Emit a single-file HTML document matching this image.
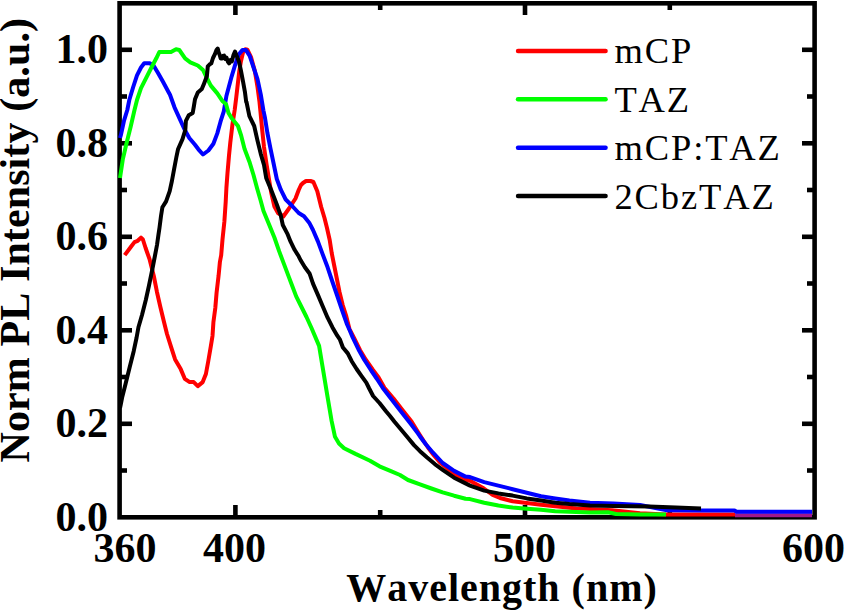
<!DOCTYPE html>
<html><head><meta charset="utf-8"><style>
html,body{margin:0;padding:0;background:#fff;}
svg{display:block;}
.b{font-family:"Liberation Serif",serif;font-weight:bold;font-size:42px;fill:#000;}
.r{font-family:"Liberation Serif",serif;font-size:36.5px;fill:#000;letter-spacing:1.9px;font-kerning:none;}
.t{font-size:40px;letter-spacing:1px;font-kerning:none;}
</style></head><body>
<svg width="845" height="616" viewBox="0 0 845 616">
<rect width="845" height="616" fill="#fff"/>
<g stroke="#000" stroke-width="4.6" fill="none">
<rect x="119.6" y="3.3" width="695" height="514" stroke-linejoin="miter"/>
<line x1="121" y1="470.5" x2="127" y2="470.5"/><line x1="813" y1="470.5" x2="807" y2="470.5"/><line x1="121" y1="423.8" x2="132" y2="423.8"/><line x1="813" y1="423.8" x2="802" y2="423.8"/><line x1="121" y1="377.0" x2="127" y2="377.0"/><line x1="813" y1="377.0" x2="807" y2="377.0"/><line x1="121" y1="330.3" x2="132" y2="330.3"/><line x1="813" y1="330.3" x2="802" y2="330.3"/><line x1="121" y1="283.5" x2="127" y2="283.5"/><line x1="813" y1="283.5" x2="807" y2="283.5"/><line x1="121" y1="236.8" x2="132" y2="236.8"/><line x1="813" y1="236.8" x2="802" y2="236.8"/><line x1="121" y1="190.0" x2="127" y2="190.0"/><line x1="813" y1="190.0" x2="807" y2="190.0"/><line x1="121" y1="143.3" x2="132" y2="143.3"/><line x1="813" y1="143.3" x2="802" y2="143.3"/><line x1="121" y1="96.5" x2="127" y2="96.5"/><line x1="813" y1="96.5" x2="807" y2="96.5"/><line x1="121" y1="49.8" x2="132" y2="49.8"/><line x1="813" y1="49.8" x2="802" y2="49.8"/><line x1="235.4" y1="516" x2="235.4" y2="505"/><line x1="235.4" y1="4" x2="235.4" y2="15"/><line x1="380.2" y1="516" x2="380.2" y2="510"/><line x1="380.2" y1="4" x2="380.2" y2="10"/><line x1="525.0" y1="516" x2="525.0" y2="505"/><line x1="525.0" y1="4" x2="525.0" y2="15"/><line x1="669.8" y1="516" x2="669.8" y2="510"/><line x1="669.8" y1="4" x2="669.8" y2="10"/>
</g>
<g fill="none" stroke-width="4" stroke-linejoin="round" stroke-linecap="butt">
<path d="M124.7,255.1 L130.6,247.3 L134.5,242.1 L137.7,240.8 L141.0,237.6 L142.9,239.5 L145.6,248.0 L149.7,259.7 L153.8,276.0 L157.0,292.2 L160.3,306.8 L164.0,322.0 L167.0,334.0 L171.3,347.7 L175.1,359.4 L180.7,369.1 L184.8,378.8 L189.7,382.1 L193.7,382.1 L197.8,386.1 L202.7,382.1 L205.9,374.0 L208.3,361.0 L210.8,346.4 L212.5,336.0 L213.4,322.3 L215.3,308.0 L216.6,292.5 L218.6,275.6 L219.9,262.0 L221.2,255.1 L222.5,239.5 L224.4,221.4 L225.7,201.9 L226.4,188.0 L227.5,173.0 L229.0,155.5 L230.3,142.5 L232.5,124.0 L234.7,110.0 L236.3,97.0 L237.8,84.0 L239.3,71.0 L241.0,61.0 L243.0,52.5 L245.3,49.3 L247.5,49.8 L251.0,57.1 L254.9,71.4 L257.5,87.0 L259.5,102.0 L260.5,112.0 L262.0,128.0 L264.0,147.0 L266.5,164.0 L268.8,178.0 L271.1,192.0 L274.4,206.5 L278.0,213.0 L283.3,216.5 L289.0,208.5 L295.5,198.5 L298.7,190.0 L301.0,185.0 L303.0,183.0 L306.0,181.0 L310.5,181.0 L313.4,182.0 L317.3,191.2 L321.2,207.0 L324.5,218.0 L327.0,228.0 L329.7,240.0 L331.7,253.0 L334.3,266.0 L336.9,279.0 L339.5,292.0 L342.7,305.0 L346.0,315.3 L349.4,328.8 L354.3,338.5 L360.1,350.2 L366.0,360.0 L372.8,369.7 L378.6,377.5 L384.4,387.8 L393.5,398.5 L402.6,410.2 L411.7,421.8 L418.0,432.0 L424.0,441.5 L428.0,447.5 L434.0,455.5 L440.0,462.5 L446.0,467.5 L454.1,474.0 L462.0,478.5 L470.0,480.7 L476.8,484.5 L483.6,488.3 L492.7,495.0 L500.0,498.0 L512.6,501.3 L526.8,503.0 L541.0,504.8 L555.2,506.2 L576.5,508.4 L590.0,509.0 L612.0,510.3 L640.0,513.3 L666.0,514.5 L735.0,514.6" stroke="#ff0000"/>
<path d="M735.0,515.2 L812.0,515.2" stroke="#a0188c"/>
<path d="M120.0,138.0 L121.0,134.7 L124.1,120.4 L127.3,110.0 L129.3,100.0 L133.2,87.0 L137.0,75.3 L141.0,67.5 L144.2,63.3 L150.0,63.3 L154.0,66.2 L157.9,72.7 L163.0,81.8 L168.2,91.5 L170.0,94.8 L174.5,107.3 L180.2,119.8 L184.8,130.0 L189.3,138.0 L195.0,144.8 L198.4,149.3 L203.0,154.5 L208.4,150.5 L213.4,143.8 L217.3,133.4 L220.5,121.7 L223.8,111.3 L226.4,96.0 L231.6,76.6 L235.5,63.6 L238.7,54.5 L242.6,49.9 L245.8,49.9 L249.7,55.8 L253.6,67.5 L257.5,79.2 L260.8,94.7 L263.4,110.3 L265.0,118.0 L267.4,133.0 L270.5,148.7 L273.5,163.0 L276.8,179.0 L280.8,189.7 L285.7,199.5 L292.2,206.0 L298.7,213.0 L304.0,216.2 L309.2,222.7 L313.0,230.0 L317.9,241.4 L322.7,254.4 L327.6,267.3 L332.5,282.0 L337.3,296.0 L342.2,310.5 L347.1,324.5 L350.0,331.0 L352.7,337.5 L358.5,349.5 L364.4,360.0 L371.2,370.5 L377.0,379.0 L382.8,388.0 L391.9,399.7 L401.0,411.4 L410.1,423.0 L417.9,433.4 L420.0,436.5 L426.0,444.5 L433.0,452.7 L442.7,463.0 L454.1,470.9 L465.5,476.6 L470.0,477.1 L484.2,482.1 L498.4,485.6 L512.6,489.2 L526.8,492.7 L541.0,496.3 L555.2,498.4 L569.4,500.5 L590.0,502.7 L613.4,503.4 L640.0,505.0 L667.0,510.3 L701.0,510.5 L734.5,510.5 L736.5,511.8 L812.0,511.8" stroke="#0000ff"/>
<path d="M120.0,178.0 L122.8,159.4 L126.7,142.5 L130.6,126.9 L134.5,110.0 L137.0,100.0 L141.0,88.2 L146.2,77.9 L152.5,65.5 L156.3,58.3 L159.3,52.0 L171.0,52.0 L176.0,49.3 L179.3,50.0 L185.1,58.4 L190.3,62.3 L197.8,65.5 L203.0,70.0 L206.2,76.6 L210.8,85.6 L217.3,93.4 L222.5,101.2 L226.0,104.0 L228.5,113.0 L231.5,117.9 L238.0,126.0 L241.2,135.7 L244.5,148.7 L249.4,161.7 L253.5,175.0 L257.0,188.0 L260.5,200.0 L263.5,211.0 L269.5,225.5 L274.4,237.5 L279.2,251.4 L284.1,264.4 L289.0,277.4 L291.5,284.0 L296.2,296.4 L300.0,304.0 L306.5,317.0 L311.5,328.0 L319.1,345.9 L322.5,366.4 L327.0,393.6 L331.6,420.9 L335.0,436.8 L339.0,443.5 L344.1,448.2 L355.5,453.9 L370.0,460.7 L379.5,466.3 L390.9,471.2 L400.0,475.0 L408.0,480.0 L420.0,484.4 L431.4,488.5 L442.7,492.3 L454.1,495.7 L465.5,498.8 L470.0,499.1 L484.2,502.7 L498.4,505.5 L512.6,507.6 L526.8,508.8 L541.0,509.8 L555.2,511.2 L590.0,512.4 L608.0,512.3 L616.0,514.0 L640.0,514.4 L666.0,514.5" stroke="#00ff00"/>
<path d="M120.0,408.0 L120.7,404.8 L122.3,396.7 L125.6,383.7 L129.6,367.5 L133.7,351.2 L136.5,338.0 L138.5,327.0 L142.0,315.0 L145.8,300.0 L149.0,285.5 L152.2,270.0 L155.0,255.5 L157.0,245.0 L158.5,234.4 L158.5,234.4 L159.5,227.7 L161.0,216.0 L162.4,207.3 L166.1,201.4 L169.7,191.2 L171.9,181.0 L174.1,169.2 L176.3,157.5 L178.0,149.3 L182.5,139.1 L185.3,130.0 L185.9,120.9 L188.8,115.2 L192.7,113.0 L193.9,106.1 L195.0,99.3 L197.8,92.5 L201.8,89.1 L204.1,83.4 L206.9,76.0 L207.8,66.3 L209.5,64.5 L211.3,63.4 L213.0,58.0 L214.9,54.2 L216.5,50.0 L217.7,48.5 L218.7,52.5 L219.7,55.0 L220.7,58.5 L222.0,58.5 L223.0,56.0 L224.1,55.6 L225.3,59.0 L226.5,57.5 L227.8,61.5 L229.1,63.4 L230.5,60.0 L231.9,61.3 L233.5,55.0 L235.0,51.5 L236.3,55.0 L237.8,58.5 L239.1,62.0 L241.0,71.0 L243.0,81.4 L244.9,91.8 L246.2,102.1 L246.5,102.0 L249.4,116.2 L254.2,126.0 L257.5,140.6 L260.7,153.6 L264.0,165.0 L266.2,178.0 L271.1,189.7 L276.8,204.4 L280.8,215.7 L282.8,225.0 L287.3,233.6 L290.6,241.7 L294.6,249.8 L298.7,256.3 L300.5,260.0 L304.9,267.3 L309.7,273.8 L313.0,283.6 L317.9,294.9 L322.7,306.3 L327.6,317.7 L332.5,327.4 L337.3,335.7 L340.0,339.7 L342.9,347.5 L347.8,353.4 L351.7,361.2 L356.6,369.0 L361.4,375.8 L366.3,382.6 L369.2,388.5 L373.1,396.0 L379.5,403.0 L386.0,411.2 L390.0,416.0 L394.5,421.8 L401.0,429.5 L407.5,437.3 L414.0,445.1 L420.0,451.2 L426.8,457.3 L434.8,464.1 L442.7,469.8 L454.1,477.7 L465.5,483.4 L470.0,485.6 L484.2,490.6 L498.4,493.4 L512.6,495.6 L526.8,498.4 L541.0,500.5 L555.2,502.7 L569.4,504.1 L590.0,505.5 L613.4,506.0 L649.0,506.5 L676.0,507.6 L701.0,508.6" stroke="#000000"/>
</g>

<g class="b"><text x="108" y="63.3" text-anchor="end">1.0</text><text x="108" y="156.8" text-anchor="end">0.8</text><text x="108" y="250.3" text-anchor="end">0.6</text><text x="108" y="343.8" text-anchor="end">0.4</text><text x="108" y="437.3" text-anchor="end">0.2</text><text x="108" y="530.8" text-anchor="end">0.0</text><text x="125" y="561.5" text-anchor="middle">360</text><text x="234.5" y="561.5" text-anchor="middle">400</text><text x="524.4" y="561.5" text-anchor="middle">500</text><text x="813.4" y="561.5" text-anchor="middle">600</text>
<text class="t" x="502" y="601" text-anchor="middle">Wavelength (nm)</text>
<text transform="translate(29.3,240.2) rotate(-90)" text-anchor="middle" style="font-kerning:none;letter-spacing:0.1px">Norm PL Intensity (a.u.)</text>
</g>
<g class="r"><line x1="518" y1="51.0" x2="605.6" y2="51.0" stroke="#ff0000" stroke-width="4.4" stroke-linecap="round"/><text x="614.4" y="62.9">mCP</text><line x1="518" y1="99.3" x2="605.6" y2="99.3" stroke="#00ff00" stroke-width="4.4" stroke-linecap="round"/><text x="614.4" y="111.6">TAZ</text><line x1="518" y1="147.7" x2="605.6" y2="147.7" stroke="#0000ff" stroke-width="4.4" stroke-linecap="round"/><text x="614.4" y="160.3">mCP:TAZ</text><line x1="518" y1="196.0" x2="605.6" y2="196.0" stroke="#000000" stroke-width="4.4" stroke-linecap="round"/><text x="614.4" y="209.0">2CbzTAZ</text></g>
</svg>
</body></html>
